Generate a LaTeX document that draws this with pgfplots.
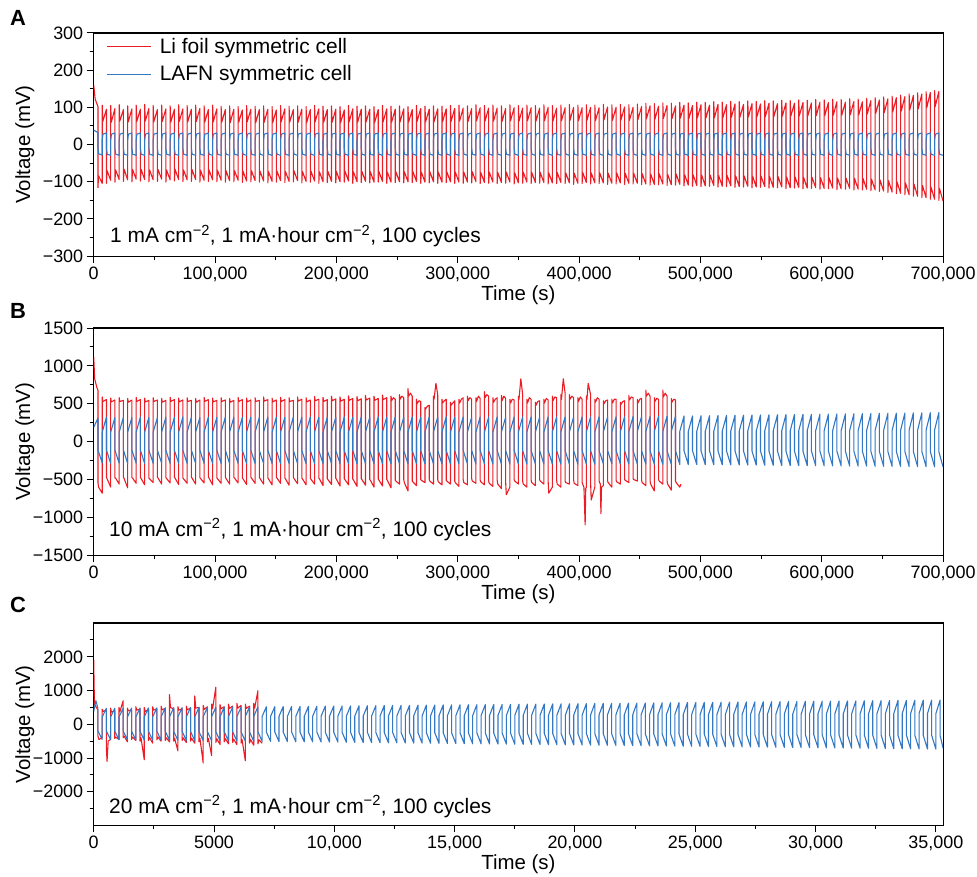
\documentclass[border=0pt]{standalone}
\usepackage{fontspec}
\setmainfont{Liberation Sans}
\usepackage{pgfplots}
\pgfplotsset{compat=1.18}
\definecolor{lired}{RGB}{236,28,36}
\definecolor{lablue}{RGB}{50,120,196}
\pgfplotsset{
  panel/.style={
    scale only axis, width=852pt,
    axis line style={line width=1.2pt},
    every tick/.style={black, line width=1pt},
    tick align=outside, xtick pos=bottom, ytick pos=left,
    major tick length=7pt, minor tick length=4pt,
    scaled x ticks=false, scaled y ticks=false,
    /pgf/number format/assume math mode=true,
    tick label style={font=\fontsize{18}{22}\selectfont},
    ylabel={Voltage (mV)}, xlabel={Time (s)},
    every axis y label/.style={at={(axis description cs:-0.081,0.5)}, rotate=90, anchor=center, font=\fontsize{20.5}{24}\selectfont},
    every axis x label/.style={at={(ticklabel cs:0.5)}, anchor=north, yshift=3pt, font=\fontsize{20.5}{24}\selectfont},
    every axis plot/.append style={no markers, line width=1.1pt, line join=round},
    clip=true,
  },
}
\begin{document}
\begin{tikzpicture}
\useasboundingbox (-94pt,33pt) rectangle (886pt,-846pt);
\node[font=\fontsize{22}{24}\selectfont\bfseries] at (-76pt,15pt) {A};
\node[font=\fontsize{22}{24}\selectfont\bfseries] at (-76pt,-279pt) {B};
\node[font=\fontsize{22}{24}\selectfont\bfseries] at (-76pt,-574pt) {C};
% ---------------- Panel A
\begin{axis}[panel, at={(0pt,0pt)}, anchor=north west, height=224pt,
  xmin=0, xmax=700, ymin=-300, ymax=300,
  xtick={0,100,...,700}, xticklabels={0,{100,000},{200,000},{300,000},{400,000},{500,000},{600,000},{700,000}},
  minor x tick num=1,
  ytick={-300,-200,...,300}, yticklabels={−300,−200,−100,0,100,200,300}, minor y tick num=1,
  legend style={at={(rel axis cs:0,1)}, anchor=north west, xshift=10pt, yshift=-1pt, draw=none, fill=none,
    font=\fontsize{21}{24}\selectfont, row sep=7pt},
  legend cell align=left,
  legend image code/.code={\draw[#1] (0pt,0pt) -- (44pt,0pt); \path (50pt,0pt);},
]
\addplot[lired] coordinates {
(0,160)(1.2,122)(3.5,102)(3.5,-116)(4,-84)(7,-104)
(7,106)(7.5,62)(10.5,95)(10.5,-104)(11,-70)(14,-96)
(14,105)(14.5,60)(17.5,97)(17.5,-101)(18,-68)(21,-94)
(21,107)(21.5,63)(24.5,94)(24.5,-99)(25,-66)(28,-95)
(28,104)(28.5,61)(31.5,96)(31.5,-100)(32,-67)(35,-93)
(35,106)(35.5,62)(38.5,95)(38.5,-98)(39,-66)(42,-94)
(42,108)(42.5,63)(45.5,97)(45.5,-100)(46,-68)(49,-95)
(49,105)(49.5,61)(52.5,94)(52.5,-99)(53,-67)(56,-93)
(56,106)(56.5,62)(59.5,96)(59.5,-101)(60,-68)(63,-95)
(63,104)(63.5,60)(66.5,95)(66.5,-98)(67,-66)(70,-94)
(70,107)(70.5,62)(73.5,96)(73.5,-100)(74,-68)(77,-95)
(77,105)(77.5,61)(80.5,95)(80.5,-99)(81,-67)(84,-94)
(84,106)(84.5,62)(87.5,97)(87.5,-101)(88,-69)(91,-96)
(91,104)(91.5,60)(94.5,94)(94.5,-99)(95,-68)(98,-95)
(98,106)(98.5,61)(101.5,96)(101.5,-100)(102,-69)(105,-96)
(105,103)(105.5,60)(108.5,94)(108.5,-101)(109,-70)(112,-97)
(112,104)(112.5,59)(115.5,95)(115.5,-100)(116,-70)(119,-96)
(119,102)(119.5,60)(122.5,93)(122.5,-102)(123,-71)(126,-98)
(126,105)(126.5,61)(129.5,95)(129.5,-100)(130,-70)(133,-97)
(133,103)(133.5,59)(136.5,94)(136.5,-101)(137,-71)(140,-98)
(140,104)(140.5,60)(143.5,95)(143.5,-103)(144,-72)(147,-99)
(147,102)(147.5,59)(150.5,93)(150.5,-101)(151,-71)(154,-97)
(154,105)(154.5,61)(157.5,96)(157.5,-102)(158,-72)(161,-99)
(161,103)(161.5,60)(164.5,94)(164.5,-100)(165,-70)(168,-97)
(168,104)(168.5,60)(171.5,95)(171.5,-103)(172,-72)(175,-99)
(175,102)(175.5,59)(178.5,94)(178.5,-101)(179,-71)(182,-98)
(182,105)(182.5,61)(185.5,96)(185.5,-104)(186,-73)(189,-100)
(189,103)(189.5,60)(192.5,94)(192.5,-102)(193,-72)(196,-99)
(196,104)(196.5,60)(199.5,95)(199.5,-103)(200,-72)(203,-100)
(203,102)(203.5,59)(206.5,93)(206.5,-101)(207,-71)(210,-98)
(210,105)(210.5,61)(213.5,96)(213.5,-104)(214,-73)(217,-100)
(217,103)(217.5,60)(220.5,95)(220.5,-102)(221,-72)(224,-99)
(224,104)(224.5,61)(227.5,95)(227.5,-103)(228,-73)(231,-101)
(231,102)(231.5,59)(234.5,94)(234.5,-101)(235,-72)(238,-99)
(238,105)(238.5,61)(241.5,96)(241.5,-104)(242,-74)(245,-101)
(245,103)(245.5,60)(248.5,95)(248.5,-102)(249,-73)(252,-100)
(252,104)(252.5,61)(255.5,96)(255.5,-103)(256,-73)(259,-100)
(259,102)(259.5,60)(262.5,94)(262.5,-102)(263,-72)(266,-99)
(266,105)(266.5,62)(269.5,97)(269.5,-104)(270,-74)(273,-101)
(273,103)(273.5,61)(276.5,95)(276.5,-103)(277,-73)(280,-100)
(280,104)(280.5,61)(283.5,96)(283.5,-104)(284,-74)(287,-101)
(287,103)(287.5,61)(290.5,96)(290.5,-102)(291,-73)(294,-100)
(294,105)(294.5,62)(297.5,97)(297.5,-104)(298,-74)(301,-101)
(301,106)(301.5,63)(304.5,98)(304.5,-104)(305,-74)(308,-101)
(308,104)(308.5,62)(311.5,97)(311.5,-103)(312,-73)(315,-100)
(315,107)(315.5,64)(318.5,99)(318.5,-105)(319,-75)(322,-102)
(322,105)(322.5,63)(325.5,98)(325.5,-104)(326,-74)(329,-101)
(329,106)(329.5,63)(332.5,98)(332.5,-105)(333,-75)(336,-102)
(336,104)(336.5,62)(339.5,97)(339.5,-104)(340,-74)(343,-101)
(343,107)(343.5,64)(346.5,99)(346.5,-106)(347,-76)(350,-103)
(350,105)(350.5,63)(353.5,98)(353.5,-104)(354,-74)(357,-101)
(357,106)(357.5,64)(360.5,99)(360.5,-105)(361,-75)(364,-102)
(364,105)(364.5,63)(367.5,98)(367.5,-104)(368,-75)(371,-102)
(371,107)(371.5,64)(374.5,100)(374.5,-106)(375,-76)(378,-103)
(378,105)(378.5,63)(381.5,98)(381.5,-105)(382,-75)(385,-102)
(385,106)(385.5,64)(388.5,99)(388.5,-105)(389,-76)(392,-103)
(392,108)(392.5,65)(395.5,100)(395.5,-107)(396,-77)(399,-104)
(399,106)(399.5,64)(402.5,99)(402.5,-105)(403,-75)(406,-102)
(406,107)(406.5,65)(409.5,100)(409.5,-106)(410,-76)(413,-103)
(413,106)(413.5,64)(416.5,99)(416.5,-105)(417,-76)(420,-103)
(420,108)(420.5,66)(423.5,101)(423.5,-107)(424,-77)(427,-104)
(427,107)(427.5,65)(430.5,100)(430.5,-106)(431,-76)(434,-103)
(434,108)(434.5,66)(437.5,101)(437.5,-107)(438,-77)(441,-104)
(441,107)(441.5,65)(444.5,100)(444.5,-106)(445,-77)(448,-104)
(448,109)(448.5,67)(451.5,102)(451.5,-108)(452,-78)(455,-106)
(455,111)(455.5,69)(458.5,104)(458.5,-109)(459,-79)(462,-107)
(462,110)(462.5,68)(465.5,103)(465.5,-108)(466,-78)(469,-106)
(469,112)(469.5,70)(472.5,105)(472.5,-110)(473,-80)(476,-108)
(476,111)(476.5,69)(479.5,104)(479.5,-109)(480,-79)(483,-107)
(483,113)(483.5,71)(486.5,106)(486.5,-111)(487,-81)(490,-109)
(490,112)(490.5,70)(493.5,105)(493.5,-112)(494,-81)(497,-110)
(497,114)(497.5,72)(500.5,107)(500.5,-113)(501,-82)(504,-111)
(504,113)(504.5,71)(507.5,106)(507.5,-112)(508,-82)(511,-110)
(511,115)(511.5,72)(514.5,108)(514.5,-114)(515,-83)(518,-112)
(518,114)(518.5,72)(521.5,107)(521.5,-113)(522,-83)(525,-111)
(525,116)(525.5,73)(528.5,109)(528.5,-115)(529,-84)(532,-113)
(532,115)(532.5,73)(535.5,108)(535.5,-114)(536,-84)(539,-112)
(539,117)(539.5,74)(542.5,110)(542.5,-116)(543,-85)(546,-114)
(546,116)(546.5,74)(549.5,109)(549.5,-115)(550,-85)(553,-113)
(553,118)(553.5,75)(556.5,111)(556.5,-117)(557,-86)(560,-115)
(560,117)(560.5,75)(563.5,110)(563.5,-116)(564,-86)(567,-114)
(567,119)(567.5,76)(570.5,112)(570.5,-118)(571,-87)(574,-116)
(574,118)(574.5,76)(577.5,111)(577.5,-117)(578,-87)(581,-115)
(581,120)(581.5,77)(584.5,113)(584.5,-119)(585,-88)(588,-117)
(588,119)(588.5,77)(591.5,112)(591.5,-118)(592,-88)(595,-116)
(595,121)(595.5,78)(598.5,114)(598.5,-120)(599,-89)(602,-118)
(602,120)(602.5,78)(605.5,113)(605.5,-119)(606,-89)(609,-117)
(609,122)(609.5,79)(612.5,115)(612.5,-121)(613,-90)(616,-119)
(616,121)(616.5,79)(619.5,114)(619.5,-120)(620,-90)(623,-118)
(623,123)(623.5,80)(626.5,116)(626.5,-122)(627,-91)(630,-120)
(630,122)(630.5,80)(633.5,115)(633.5,-122)(634,-91)(637,-120)
(637,124)(637.5,82)(640.5,118)(640.5,-124)(641,-93)(644,-122)
(644,126)(644.5,84)(647.5,120)(647.5,-126)(648,-95)(651,-125)
(651,128)(651.5,86)(654.5,123)(654.5,-129)(655,-97)(658,-128)
(658,130)(658.5,88)(661.5,126)(661.5,-132)(662,-100)(665,-131)
(665,133)(665.5,90)(668.5,129)(668.5,-135)(669,-103)(672,-135)
(672,136)(672.5,93)(675.5,132)(675.5,-139)(676,-106)(679,-139)
(679,139)(679.5,96)(682.5,136)(682.5,-143)(683,-110)(686,-143)
(686,142)(686.5,99)(689.5,140)(689.5,-147)(690,-114)(693,-147)
(693,145)(693.5,102)(696.5,143)(696.5,-150)(697,-118)(700,-152)
};
\addlegendentry{Li foil symmetric cell}
\addplot[lablue] coordinates {
(0,36)(0.6,38)(3.5,32)(3.5,-8)(4.1,-25)(7,-28)
(7,12)(7.6,28)(10.5,31)(10.5,-10)(11.1,-26)(14,-29)
(14,12)(14.6,28)(17.5,31)(17.5,-10)(18.1,-26)(21,-29)
(21,12)(21.6,28)(24.5,31)(24.5,-10)(25.1,-26)(28,-29)
(28,12)(28.6,28)(31.5,31)(31.5,-10)(32.1,-26)(35,-29)
(35,12)(35.6,28)(38.5,31)(38.5,-10)(39.1,-26)(42,-29)
(42,12)(42.6,28)(45.5,31)(45.5,-10)(46.1,-26)(49,-29)
(49,12)(49.6,28)(52.5,31)(52.5,-10)(53.1,-26)(56,-29)
(56,12)(56.6,28)(59.5,31)(59.5,-10)(60.1,-26)(63,-29)
(63,12)(63.6,28)(66.5,31)(66.5,-10)(67.1,-26)(70,-29)
(70,12)(70.6,28)(73.5,31)(73.5,-10)(74.1,-26)(77,-29)
(77,12)(77.6,28)(80.5,31)(80.5,-10)(81.1,-26)(84,-29)
(84,12)(84.6,28)(87.5,31)(87.5,-10)(88.1,-26)(91,-29)
(91,12)(91.6,28)(94.5,31)(94.5,-10)(95.1,-26)(98,-29)
(98,12)(98.6,28)(101.5,31)(101.5,-10)(102.1,-26)(105,-29)
(105,12)(105.6,28)(108.5,31)(108.5,-10)(109.1,-26)(112,-29)
(112,12)(112.6,28)(115.5,31)(115.5,-10)(116.1,-26)(119,-29)
(119,12)(119.6,28)(122.5,31)(122.5,-10)(123.1,-26)(126,-29)
(126,12)(126.6,28)(129.5,31)(129.5,-10)(130.1,-26)(133,-29)
(133,12)(133.6,28)(136.5,31)(136.5,-10)(137.1,-26)(140,-29)
(140,12)(140.6,28)(143.5,31)(143.5,-10)(144.1,-26)(147,-29)
(147,12)(147.6,28)(150.5,31)(150.5,-10)(151.1,-26)(154,-29)
(154,12)(154.6,28)(157.5,31)(157.5,-10)(158.1,-26)(161,-29)
(161,12)(161.6,28)(164.5,31)(164.5,-10)(165.1,-26)(168,-29)
(168,12)(168.6,28)(171.5,31)(171.5,-10)(172.1,-26)(175,-29)
(175,12)(175.6,28)(178.5,31)(178.5,-10)(179.1,-26)(182,-29)
(182,12)(182.6,28)(185.5,31)(185.5,-10)(186.1,-26)(189,-29)
(189,12)(189.6,28)(192.5,31)(192.5,-10)(193.1,-26)(196,-29)
(196,12)(196.6,28)(199.5,31)(199.5,-10)(200.1,-26)(203,-29)
(203,12)(203.6,28)(206.5,31)(206.5,-10)(207.1,-26)(210,-29)
(210,12)(210.6,28)(213.5,31)(213.5,-10)(214.1,-26)(217,-29)
(217,12)(217.6,28)(220.5,31)(220.5,-10)(221.1,-26)(224,-29)
(224,12)(224.6,28)(227.5,31)(227.5,-10)(228.1,-26)(231,-29)
(231,12)(231.6,28)(234.5,31)(234.5,-10)(235.1,-26)(238,-29)
(238,12)(238.6,28)(241.5,31)(241.5,-10)(242.1,-26)(245,-29)
(245,12)(245.6,28)(248.5,31)(248.5,-10)(249.1,-26)(252,-29)
(252,12)(252.6,28)(255.5,31)(255.5,-10)(256.1,-26)(259,-29)
(259,12)(259.6,28)(262.5,31)(262.5,-10)(263.1,-26)(266,-29)
(266,12)(266.6,28)(269.5,31)(269.5,-10)(270.1,-26)(273,-29)
(273,12)(273.6,28)(276.5,31)(276.5,-10)(277.1,-26)(280,-29)
(280,12)(280.6,28)(283.5,31)(283.5,-10)(284.1,-26)(287,-29)
(287,12)(287.6,28)(290.5,31)(290.5,-10)(291.1,-26)(294,-29)
(294,12)(294.6,28)(297.5,31)(297.5,-10)(298.1,-26)(301,-29)
(301,12)(301.6,28)(304.5,31)(304.5,-10)(305.1,-26)(308,-29)
(308,12)(308.6,28)(311.5,31)(311.5,-10)(312.1,-26)(315,-29)
(315,12)(315.6,28)(318.5,31)(318.5,-10)(319.1,-26)(322,-29)
(322,12)(322.6,28)(325.5,31)(325.5,-10)(326.1,-26)(329,-29)
(329,12)(329.6,28)(332.5,31)(332.5,-10)(333.1,-26)(336,-29)
(336,12)(336.6,28)(339.5,31)(339.5,-10)(340.1,-26)(343,-29)
(343,12)(343.6,28)(346.5,31)(346.5,-10)(347.1,-26)(350,-29)
(350,12)(350.6,28)(353.5,31)(353.5,-10)(354.1,-26)(357,-29)
(357,12)(357.6,28)(360.5,31)(360.5,-10)(361.1,-26)(364,-29)
(364,12)(364.6,28)(367.5,31)(367.5,-10)(368.1,-26)(371,-29)
(371,12)(371.6,28)(374.5,31)(374.5,-10)(375.1,-26)(378,-29)
(378,12)(378.6,28)(381.5,31)(381.5,-10)(382.1,-26)(385,-29)
(385,12)(385.6,28)(388.5,31)(388.5,-10)(389.1,-26)(392,-29)
(392,12)(392.6,28)(395.5,31)(395.5,-10)(396.1,-26)(399,-29)
(399,12)(399.6,28)(402.5,31)(402.5,-10)(403.1,-26)(406,-29)
(406,12)(406.6,28)(409.5,31)(409.5,-10)(410.1,-26)(413,-29)
(413,12)(413.6,28)(416.5,31)(416.5,-10)(417.1,-26)(420,-29)
(420,12)(420.6,28)(423.5,31)(423.5,-10)(424.1,-26)(427,-29)
(427,12)(427.6,28)(430.5,31)(430.5,-10)(431.1,-26)(434,-29)
(434,12)(434.6,28)(437.5,31)(437.5,-10)(438.1,-26)(441,-29)
(441,12)(441.6,28)(444.5,31)(444.5,-10)(445.1,-26)(448,-29)
(448,12)(448.6,28)(451.5,31)(451.5,-10)(452.1,-26)(455,-29)
(455,12)(455.6,28)(458.5,31)(458.5,-10)(459.1,-26)(462,-29)
(462,12)(462.6,28)(465.5,31)(465.5,-10)(466.1,-26)(469,-29)
(469,12)(469.6,28)(472.5,31)(472.5,-10)(473.1,-26)(476,-29)
(476,12)(476.6,28)(479.5,31)(479.5,-10)(480.1,-26)(483,-29)
(483,12)(483.6,28)(486.5,31)(486.5,-10)(487.1,-26)(490,-29)
(490,12)(490.6,28)(493.5,31)(493.5,-10)(494.1,-26)(497,-29)
(497,12)(497.6,28)(500.5,31)(500.5,-10)(501.1,-26)(504,-29)
(504,12)(504.6,28)(507.5,31)(507.5,-10)(508.1,-26)(511,-29)
(511,12)(511.6,28)(514.5,31)(514.5,-10)(515.1,-26)(518,-29)
(518,12)(518.6,28)(521.5,31)(521.5,-10)(522.1,-26)(525,-29)
(525,12)(525.6,28)(528.5,31)(528.5,-10)(529.1,-26)(532,-29)
(532,12)(532.6,28)(535.5,31)(535.5,-10)(536.1,-26)(539,-29)
(539,12)(539.6,28)(542.5,31)(542.5,-10)(543.1,-26)(546,-29)
(546,12)(546.6,28)(549.5,31)(549.5,-10)(550.1,-26)(553,-29)
(553,12)(553.6,28)(556.5,31)(556.5,-10)(557.1,-26)(560,-29)
(560,12)(560.6,28)(563.5,31)(563.5,-10)(564.1,-26)(567,-29)
(567,12)(567.6,28)(570.5,31)(570.5,-10)(571.1,-26)(574,-29)
(574,12)(574.6,28)(577.5,31)(577.5,-10)(578.1,-26)(581,-29)
(581,12)(581.6,28)(584.5,31)(584.5,-10)(585.1,-26)(588,-29)
(588,12)(588.6,28)(591.5,31)(591.5,-10)(592.1,-26)(595,-29)
(595,12)(595.6,28)(598.5,31)(598.5,-10)(599.1,-26)(602,-29)
(602,12)(602.6,28)(605.5,31)(605.5,-10)(606.1,-26)(609,-29)
(609,12)(609.6,28)(612.5,31)(612.5,-10)(613.1,-26)(616,-29)
(616,12)(616.6,28)(619.5,31)(619.5,-10)(620.1,-26)(623,-29)
(623,12)(623.6,28)(626.5,31)(626.5,-10)(627.1,-26)(630,-29)
(630,12)(630.6,28)(633.5,31)(633.5,-10)(634.1,-26)(637,-29)
(637,12)(637.6,28)(640.5,31)(640.5,-10)(641.1,-26)(644,-29)
(644,12)(644.6,28)(647.5,31)(647.5,-10)(648.1,-26)(651,-29)
(651,12)(651.6,28)(654.5,31)(654.5,-10)(655.1,-26)(658,-29)
(658,12)(658.6,28)(661.5,31)(661.5,-10)(662.1,-26)(665,-29)
(665,12)(665.6,28)(668.5,31)(668.5,-10)(669.1,-26)(672,-29)
(672,12)(672.6,28)(675.5,31)(675.5,-10)(676.1,-26)(679,-29)
(679,12)(679.6,28)(682.5,31)(682.5,-10)(683.1,-26)(686,-29)
(686,12)(686.6,28)(689.5,31)(689.5,-10)(690.1,-26)(693,-29)
(693,12)(693.6,28)(696.5,31)(696.5,-10)(697.1,-26)(700,-29)
};
\addlegendentry{LAFN symmetric cell}
\node[anchor=west, font=\fontsize{21}{26}\selectfont] at (rel axis cs:0,0) [xshift=13pt, yshift=20pt] {1 mA cm\textsuperscript{−2}, 1 mA·hour cm\textsuperscript{−2}, 100 cycles};
\end{axis}
% ---------------- Panel B
\begin{axis}[panel, at={(0pt,-296pt)}, anchor=north west, height=228pt,
  xmin=0, xmax=700, ymin=-1500, ymax=1500,
  xtick={0,100,...,700}, xticklabels={0,{100,000},{200,000},{300,000},{400,000},{500,000},{600,000},{700,000}},
  minor x tick num=1,
  ytick={-1500,-1000,...,1500}, yticklabels={−1500,−1000,−500,0,500,1000,1500}, minor y tick num=1,
]
\addplot[lired] coordinates {
(0,1120)(0.8,830)(2.5,720)(3.5,680)(3.5,-540)(4,-600)(7,-680)
(7,590)(7.5,530)(10.5,555)(10.5,-470)(11,-490)(14,-600)
(14,575)(14.5,525)(17.5,550)(17.5,-480)(18,-480)(21,-560)
(21,580)(21.5,530)(24.5,545)(24.5,-470)(25,-485)(28,-610)
(28,570)(28.5,520)(31.5,550)(31.5,-475)(32,-480)(35,-550)
(35,585)(35.5,530)(38.5,555)(38.5,-470)(39,-485)(42,-570)
(42,575)(42.5,525)(45.5,545)(45.5,-480)(46,-490)(49,-540)
(49,580)(49.5,530)(52.5,550)(52.5,-470)(53,-480)(56,-560)
(56,570)(56.5,520)(59.5,545)(59.5,-475)(60,-485)(63,-545)
(63,585)(63.5,530)(66.5,555)(66.5,-470)(67,-480)(70,-565)
(70,575)(70.5,525)(73.5,550)(73.5,-480)(74,-490)(77,-550)
(77,580)(77.5,530)(80.5,545)(80.5,-470)(81,-480)(84,-560)
(84,570)(84.5,520)(87.5,550)(87.5,-475)(88,-485)(91,-545)
(91,585)(91.5,530)(94.5,555)(94.5,-470)(95,-480)(98,-570)
(98,575)(98.5,525)(101.5,545)(101.5,-480)(102,-490)(105,-550)
(105,580)(105.5,530)(108.5,550)(108.5,-470)(109,-485)(112,-560)
(112,570)(112.5,520)(115.5,545)(115.5,-475)(116,-480)(119,-545)
(119,585)(119.5,530)(122.5,555)(122.5,-480)(123,-490)(126,-565)
(126,575)(126.5,525)(129.5,550)(129.5,-470)(130,-480)(133,-550)
(133,580)(133.5,530)(136.5,545)(136.5,-475)(137,-485)(140,-560)
(140,590)(140.5,535)(143.5,555)(143.5,-480)(144,-490)(147,-570)
(147,575)(147.5,525)(150.5,550)(150.5,-470)(151,-480)(154,-550)
(154,585)(154.5,530)(157.5,555)(157.5,-480)(158,-490)(161,-575)
(161,580)(161.5,530)(164.5,545)(164.5,-475)(165,-485)(168,-555)
(168,590)(168.5,535)(171.5,560)(171.5,-480)(172,-490)(175,-570)
(175,580)(175.5,525)(178.5,550)(178.5,-485)(179,-495)(182,-560)
(182,595)(182.5,540)(185.5,560)(185.5,-480)(186,-490)(189,-580)
(189,585)(189.5,530)(192.5,555)(192.5,-490)(193,-500)(196,-565)
(196,600)(196.5,540)(199.5,565)(199.5,-485)(200,-495)(203,-585)
(203,590)(203.5,535)(206.5,560)(206.5,-490)(207,-500)(210,-570)
(210,605)(210.5,545)(213.5,570)(213.5,-495)(214,-505)(217,-590)
(217,595)(217.5,540)(220.5,565)(220.5,-490)(221,-500)(224,-575)
(224,610)(224.5,550)(227.5,575)(227.5,-500)(228,-510)(231,-600)
(231,600)(231.5,545)(234.5,570)(234.5,-495)(235,-505)(238,-585)
(238,615)(238.5,555)(241.5,580)(241.5,-500)(242,-510)(245,-610)
(245,600)(245.5,540)(247,580)(248.5,560)(248.5,-510)(249,-520)(252,-560)
(252,620)(252.5,560)(254,600)(255.5,580)(255.5,-500)(256,-540)(259,-650)
(259,700)(259.5,600)(261,640)(262.5,600)(262.5,-520)(263,-530)(266,-580)
(266,560)(266.5,500)(268,540)(269.5,530)(269.5,-500)(270,-510)(273,-540)
(273,450)(273.5,430)(275,470)(276.5,480)(276.5,-490)(277,-520)(280,-560)
(280,600)(280.5,560)(282,770)(283.5,620)(283.5,-500)(284,-530)(287,-570)
(287,560)(287.5,510)(289,540)(290.5,560)(290.5,-510)(291,-520)(294,-560)
(294,520)(294.5,480)(296,510)(297.5,540)(297.5,-520)(298,-540)(301,-590)
(301,560)(301.5,510)(303,560)(304.5,580)(304.5,-500)(305,-540)(308,-570)
(308,600)(308.5,540)(310,580)(311.5,560)(311.5,-490)(312,-520)(315,-550)
(315,580)(315.5,530)(317,600)(318.5,570)(318.5,-510)(319,-530)(322,-570)
(322,660)(322.5,580)(324,620)(325.5,600)(325.5,-520)(326,-550)(329,-590)
(329,580)(329.5,520)(331,560)(332.5,580)(332.5,-510)(333,-560)(336,-620)
(336,610)(336.5,540)(338,600)(339.5,570)(339.5,-540)(340,-700)(343,-600)
(343,560)(343.5,510)(345,560)(346.5,550)(346.5,-500)(347,-520)(350,-560)
(350,600)(350.5,560)(352,830)(353.5,620)(353.5,-520)(354,-560)(357,-600)
(357,560)(357.5,510)(359,580)(360.5,560)(360.5,-510)(361,-540)(364,-580)
(364,520)(364.5,480)(366,530)(367.5,540)(367.5,-500)(368,-520)(371,-560)
(371,560)(371.5,510)(373,570)(374.5,550)(374.5,-520)(375,-680)(378,-600)
(378,600)(378.5,540)(380,590)(381.5,580)(381.5,-510)(382,-560)(385,-600)
(385,620)(385.5,560)(387,830)(388.5,640)(388.5,-520)(389,-540)(392,-560)
(392,620)(392.5,560)(394,600)(395.5,580)(395.5,-510)(396,-550)(399,-580)
(399,580)(399.5,530)(401,590)(402.5,560)(402.5,-540)(404,-600)(405,-1100)(405.5,-620)(406,-600)
(406,600)(406.5,560)(407.5,770)(409.5,620)(409.5,-540)(410,-770)(413,-600)
(413,560)(413.5,520)(415,580)(416.5,560)(416.5,-520)(417.5,-560)(418,-950)(418.5,-600)(420,-580)
(420,540)(420.5,500)(422,540)(423.5,550)(423.5,-520)(424,-540)(427,-600)
(427,560)(427.5,510)(429,560)(430.5,560)(430.5,-510)(431,-530)(434,-560)
(434,520)(434.5,490)(436,530)(437.5,540)(437.5,-500)(438,-510)(441,-540)
(441,610)(441.5,550)(443,590)(444.5,580)(444.5,-490)(445,-500)(448,-520)
(448,560)(448.5,510)(450,560)(451.5,570)(451.5,-510)(452,-540)(455,-580)
(455,680)(455.5,600)(457,640)(458.5,600)(458.5,-520)(459,-560)(462,-650)
(462,580)(462.5,530)(464,570)(465.5,560)(465.5,-500)(466,-520)(469,-560)
(469,680)(469.5,590)(471,640)(472.5,600)(472.5,-520)(473,-560)(476,-640)
(476,570)(476.5,520)(478,560)(479.5,550)(479.5,-520)(480,-540)(482,-580)(483,-600)(484,-560)
};
\addplot[lablue] coordinates {
(0,190)(3.5,310)(3.5,-110)(7,-280)(7,125)(10.5,322)(10.5,-112)(14,-286)(14,128)(17.5,318)(17.5,-114)(21,-284)(21,126)(24.5,324)(24.5,-113)(28,-287)(28,128)(31.5,320)(31.5,-115)(35,-285)
(35,127)(38.5,326)(38.5,-114)(42,-288)(42,128)(45.5,322)(45.5,-113)(49,-286)(49,126)(52.5,318)(52.5,-115)(56,-284)(56,128)(59.5,324)(59.5,-114)(63,-288)(63,127)(66.5,320)(66.5,-113)(70,-285)
(70,128)(73.5,326)(73.5,-115)(77,-287)(77,126)(80.5,322)(80.5,-114)(84,-286)(84,128)(87.5,318)(87.5,-113)(91,-288)(91,127)(94.5,324)(94.5,-115)(98,-285)(98,128)(101.5,320)(101.5,-114)(105,-287)
(105,127)(108.5,326)(108.5,-113)(112,-289)(112,128)(115.5,322)(115.5,-115)(119,-286)(119,126)(122.5,320)(122.5,-114)(126,-288)(126,128)(129.5,324)(129.5,-113)(133,-287)(133,127)(136.5,321)(136.5,-115)(140,-289)
(140,128)(143.5,326)(143.5,-114)(147,-288)(147,126)(150.5,322)(150.5,-113)(154,-290)(154,128)(157.5,320)(157.5,-115)(161,-287)(161,127)(164.5,325)(164.5,-114)(168,-289)(168,128)(171.5,322)(171.5,-115)(175,-290)
(175,127)(178.5,326)(178.5,-114)(182,-288)(182,128)(185.5,321)(185.5,-115)(189,-290)(189,126)(192.5,324)(192.5,-114)(196,-289)(196,128)(199.5,322)(199.5,-115)(203,-291)(203,127)(206.5,326)(206.5,-115)(210,-289)
(210,128)(213.5,322)(213.5,-114)(217,-291)(217,127)(220.5,325)(220.5,-115)(224,-290)(224,128)(227.5,322)(227.5,-116)(231,-292)(231,127)(234.5,326)(234.5,-115)(238,-290)(238,128)(241.5,323)(241.5,-116)(245,-292)
(245,128)(248.5,326)(248.5,-115)(252,-291)(252,127)(255.5,323)(255.5,-116)(259,-293)(259,128)(262.5,325)(262.5,-115)(266,-291)(266,128)(269.5,323)(269.5,-116)(273,-293)(273,127)(276.5,326)(276.5,-116)(280,-292)
(280,128)(283.5,324)(283.5,-115)(287,-294)(287,128)(290.5,326)(290.5,-116)(294,-292)(294,127)(297.5,323)(297.5,-116)(301,-294)(301,128)(304.5,326)(304.5,-116)(308,-293)(308,128)(311.5,324)(311.5,-115)(315,-295)
(315,128)(318.5,327)(318.5,-116)(322,-293)(322,127)(325.5,324)(325.5,-116)(329,-295)(329,128)(332.5,326)(332.5,-116)(336,-294)(336,128)(339.5,324)(339.5,-116)(343,-296)(343,128)(346.5,327)(346.5,-116)(350,-294)
(350,128)(353.5,325)(353.5,-116)(357,-296)(357,128)(360.5,327)(360.5,-117)(364,-295)(364,128)(367.5,325)(367.5,-116)(371,-297)(371,128)(374.5,327)(374.5,-117)(378,-295)(378,129)(381.5,325)(381.5,-116)(385,-297)
(385,129)(388.5,327)(388.5,-117)(392,-296)(392,129)(395.5,326)(395.5,-117)(399,-298)(399,129)(402.5,327)(402.5,-117)(406,-296)(406,129)(409.5,326)(409.5,-117)(413,-298)(413,129)(416.5,328)(416.5,-117)(420,-292)
(420,130)(423.5,325)(423.5,-116)(427,-292)(427,131)(430.5,327)(430.5,-116)(434,-294)(434,131)(437.5,328)(437.5,-117)(441,-295)(441,132)(444.5,330)(444.5,-118)(448,-296)(448,132)(451.5,331)(451.5,-118)(455,-297)
(455,133)(458.5,333)(458.5,-118)(462,-298)(462,134)(465.5,334)(465.5,-119)(469,-299)(469,134)(472.5,336)(472.5,-119)(476,-300)(476,135)(479.5,337)(479.5,-120)(483,-301)(483,136)(486.5,339)(486.5,-120)(490,-302)
(490,136)(493.5,340)(493.5,-120)(497,-303)(497,137)(500.5,342)(500.5,-121)(504,-304)(504,137)(507.5,343)(507.5,-121)(511,-305)(511,138)(514.5,345)(514.5,-122)(518,-306)(518,139)(521.5,346)(521.5,-122)(525,-307)
(525,139)(528.5,348)(528.5,-122)(532,-308)(532,140)(535.5,349)(535.5,-123)(539,-309)(539,140)(542.5,351)(542.5,-123)(546,-310)(546,141)(549.5,352)(549.5,-124)(553,-311)(553,142)(556.5,354)(556.5,-124)(560,-312)
(560,142)(563.5,355)(563.5,-124)(567,-314)(567,143)(570.5,357)(570.5,-125)(574,-315)(574,143)(577.5,358)(577.5,-125)(581,-316)(581,144)(584.5,360)(584.5,-126)(588,-317)(588,145)(591.5,361)(591.5,-126)(595,-318)
(595,145)(598.5,363)(598.5,-126)(602,-319)(602,146)(605.5,364)(605.5,-127)(609,-320)(609,146)(612.5,366)(612.5,-127)(616,-321)(616,147)(619.5,367)(619.5,-128)(623,-322)(623,148)(626.5,369)(626.5,-128)(630,-323)
(630,148)(633.5,370)(633.5,-128)(637,-324)(637,149)(640.5,372)(640.5,-129)(644,-325)(644,149)(647.5,373)(647.5,-129)(651,-326)(651,150)(654.5,375)(654.5,-130)(658,-327)(658,151)(661.5,376)(661.5,-130)(665,-328)
(665,151)(668.5,378)(668.5,-130)(672,-329)(672,152)(675.5,379)(675.5,-131)(679,-330)(679,152)(682.5,381)(682.5,-131)(686,-331)(686,153)(689.5,382)(689.5,-132)(693,-333)(693,154)(696.5,384)(696.5,-132)(700,-335)
};
\node[anchor=west, font=\fontsize{21}{26}\selectfont] at (rel axis cs:0,0) [xshift=12pt, yshift=26pt] {10 mA cm\textsuperscript{−2}, 1 mA·hour cm\textsuperscript{−2}, 100 cycles};
\end{axis}
% ---------------- Panel C
\begin{axis}[panel, at={(0pt,-592pt)}, anchor=north west, height=203pt,
  xmin=0, xmax=35300, ymin=-3000, ymax=3000,
  xtick={0,5000,...,35000}, xticklabels={0,5000,{10,000},{15,000},{20,000},{25,000},{30,000},{35,000}},
  minor x tick num=1,
  ytick={-2000,-1000,...,2000}, yticklabels={−2000,−1000,0,1000,2000},
  minor ytick={-2500,-1500,-500,500,1500,2500},
]
\addplot[lired] coordinates {
(0,1900)(30,600)(175,420)(175,-350)(215,-450)(350,-400)
(350,450)(390,380)(525,420)(525,-700)(555,-1100)(600,-500)(700,-450)
(700,480)(740,360)(875,400)(875,-420)(915,-380)(1050,-450)
(1050,500)(1090,380)(1225,700)(1225,-400)(1265,-350)(1400,-520)
(1400,480)(1440,400)(1575,420)(1575,-450)(1615,-380)(1750,-480)
(1750,520)(1790,420)(1925,450)(1925,-500)(1965,-400)(2100,-1050)
(2100,500)(2140,380)(2275,440)(2275,-480)(2315,-390)(2450,-560)
(2450,520)(2490,420)(2625,460)(2625,-460)(2665,-380)(2800,-500)
(2800,540)(2840,430)(2975,470)(2975,-480)(3015,-400)(3150,-520)
(3150,880)(3190,500)(3325,450)(3325,-500)(3365,-420)(3500,-790)
(3500,520)(3540,420)(3675,460)(3675,-480)(3715,-400)(3850,-540)
(3850,540)(3890,430)(4025,480)(4025,-500)(4065,-410)(4200,-560)
(4200,840)(4240,480)(4375,500)(4375,-520)(4415,-420)(4550,-1150)
(4550,560)(4590,440)(4725,520)(4725,-520)(4765,-420)(4900,-930)
(4900,600)(4940,460)(5075,1100)(5075,-540)(5115,-430)(5250,-600)
(5250,580)(5290,460)(5425,520)(5425,-520)(5465,-420)(5600,-580)
(5600,600)(5640,470)(5775,540)(5775,-540)(5815,-440)(5950,-600)
(5950,620)(5990,480)(6125,560)(6125,-560)(6165,-450)(6300,-1080)
(6300,600)(6340,470)(6475,540)(6475,-560)(6515,-450)(6650,-620)
(6650,620)(6690,480)(6825,1000)(6825,-580)(6865,-460)(7000,-560)
};
\addplot[lablue] coordinates {
(0,380)(90,700)(175,480)(175,-200)(350,-450)
(350,212)(525,472)(525,-203)(700,-453)(700,213)(875,475)(875,-205)(1050,-456)(1050,213)(1225,478)(1225,-204)(1400,-459)(1400,214)(1575,480)(1575,-205)(1750,-462)
(1750,216)(1925,482)(1925,-207)(2100,-465)(2100,217)(2275,485)(2275,-208)(2450,-467)(2450,218)(2625,488)(2625,-209)(2800,-470)(2800,219)(2975,490)(2975,-210)(3150,-473)
(3150,220)(3325,492)(3325,-212)(3500,-476)(3500,221)(3675,495)(3675,-213)(3850,-479)(3850,222)(4025,498)(4025,-214)(4200,-482)(4200,224)(4375,500)(4375,-216)(4550,-485)
(4550,225)(4725,502)(4725,-217)(4900,-488)(4900,226)(5075,505)(5075,-218)(5250,-490)(5250,227)(5425,508)(5425,-220)(5600,-493)(5600,228)(5775,510)(5775,-221)(5950,-496)
(5950,229)(6125,512)(6125,-222)(6300,-499)(6300,230)(6475,515)(6475,-224)(6650,-502)(6650,231)(6825,518)(6825,-225)(7000,-505)(7000,232)(7175,520)(7175,-226)(7350,-508)
(7350,233)(7525,522)(7525,-227)(7700,-511)(7700,234)(7875,525)(7875,-229)(8050,-514)(8050,235)(8225,528)(8225,-230)(8400,-517)(8400,236)(8575,530)(8575,-231)(8750,-520)
(8750,238)(8925,532)(8925,-233)(9100,-522)(9100,239)(9275,535)(9275,-234)(9450,-525)(9450,240)(9625,538)(9625,-235)(9800,-528)(9800,241)(9975,540)(9975,-236)(10150,-531)
(10150,242)(10325,542)(10325,-238)(10500,-534)(10500,243)(10675,545)(10675,-239)(10850,-537)(10850,244)(11025,548)(11025,-240)(11200,-540)(11200,245)(11375,550)(11375,-242)(11550,-543)
(11550,246)(11725,552)(11725,-243)(11900,-546)(11900,247)(12075,555)(12075,-244)(12250,-549)(12250,249)(12425,558)(12425,-246)(12600,-552)(12600,250)(12775,560)(12775,-247)(12950,-554)
(12950,251)(13125,562)(13125,-248)(13300,-557)(13300,252)(13475,565)(13475,-249)(13650,-560)(13650,253)(13825,568)(13825,-251)(14000,-563)(14000,254)(14175,570)(14175,-252)(14350,-566)
(14350,255)(14525,572)(14525,-253)(14700,-569)(14700,256)(14875,575)(14875,-255)(15050,-572)(15050,257)(15225,578)(15225,-256)(15400,-575)(15400,258)(15575,580)(15575,-257)(15750,-578)
(15750,260)(15925,582)(15925,-259)(16100,-580)(16100,261)(16275,585)(16275,-260)(16450,-583)(16450,262)(16625,588)(16625,-261)(16800,-586)(16800,263)(16975,590)(16975,-262)(17150,-589)
(17150,264)(17325,592)(17325,-264)(17500,-592)(17500,265)(17675,595)(17675,-265)(17850,-595)(17850,266)(18025,598)(18025,-266)(18200,-598)(18200,267)(18375,600)(18375,-268)(18550,-601)
(18550,268)(18725,602)(18725,-269)(18900,-604)(18900,269)(19075,605)(19075,-270)(19250,-607)(19250,271)(19425,608)(19425,-272)(19600,-610)(19600,272)(19775,610)(19775,-273)(19950,-612)
(19950,273)(20125,612)(20125,-274)(20300,-615)(20300,274)(20475,615)(20475,-276)(20650,-618)(20650,275)(20825,618)(20825,-277)(21000,-621)(21000,276)(21175,620)(21175,-278)(21350,-624)
(21350,277)(21525,622)(21525,-279)(21700,-627)(21700,278)(21875,625)(21875,-281)(22050,-630)(22050,279)(22225,628)(22225,-282)(22400,-633)(22400,280)(22575,630)(22575,-283)(22750,-636)
(22750,282)(22925,632)(22925,-285)(23100,-639)(23100,283)(23275,635)(23275,-286)(23450,-641)(23450,284)(23625,638)(23625,-287)(23800,-644)(23800,285)(23975,640)(23975,-288)(24150,-647)
(24150,286)(24325,642)(24325,-290)(24500,-650)(24500,287)(24675,645)(24675,-291)(24850,-653)(24850,288)(25025,648)(25025,-292)(25200,-656)(25200,289)(25375,650)(25375,-294)(25550,-659)
(25550,290)(25725,652)(25725,-295)(25900,-662)(25900,291)(26075,655)(26075,-296)(26250,-665)(26250,293)(26425,658)(26425,-298)(26600,-668)(26600,294)(26775,660)(26775,-299)(26950,-670)
(26950,295)(27125,662)(27125,-300)(27300,-673)(27300,296)(27475,665)(27475,-302)(27650,-676)(27650,297)(27825,668)(27825,-303)(28000,-679)(28000,298)(28175,670)(28175,-304)(28350,-682)
(28350,299)(28525,672)(28525,-305)(28700,-685)(28700,300)(28875,675)(28875,-307)(29050,-688)(29050,301)(29225,678)(29225,-308)(29400,-691)(29400,302)(29575,680)(29575,-309)(29750,-694)
(29750,304)(29925,682)(29925,-311)(30100,-697)(30100,305)(30275,685)(30275,-312)(30450,-699)(30450,306)(30625,688)(30625,-313)(30800,-702)(30800,307)(30975,690)(30975,-315)(31150,-705)
(31150,308)(31325,692)(31325,-316)(31500,-708)(31500,309)(31675,695)(31675,-317)(31850,-711)(31850,310)(32025,698)(32025,-318)(32200,-714)(32200,311)(32375,700)(32375,-320)(32550,-717)
(32550,312)(32725,702)(32725,-321)(32900,-720)(32900,313)(33075,705)(33075,-322)(33250,-723)(33250,315)(33425,708)(33425,-324)(33600,-726)(33600,316)(33775,710)(33775,-325)(33950,-728)
(33950,317)(34125,712)(34125,-326)(34300,-731)(34300,318)(34475,715)(34475,-328)(34650,-734)(34650,319)(34825,718)(34825,-329)(35000,-737)(35000,320)(35175,720)(35175,-330)(35300,-710)
};
\node[anchor=west, font=\fontsize{21}{26}\selectfont] at (rel axis cs:0,0) [xshift=12pt, yshift=19pt] {20 mA cm\textsuperscript{−2}, 1 mA·hour cm\textsuperscript{−2}, 100 cycles};
\end{axis}
\end{tikzpicture}
\end{document}
